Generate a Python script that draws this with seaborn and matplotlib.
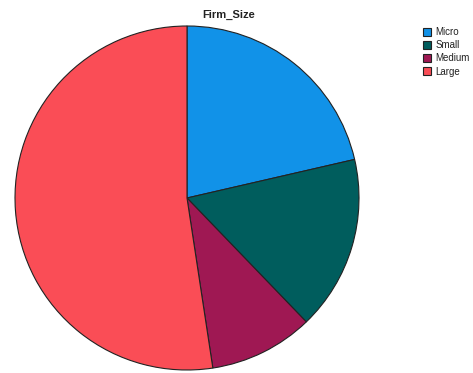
import matplotlib
matplotlib.use("Agg")
import matplotlib.pyplot as plt
import seaborn as sns

# firm size shares
categories = ["Micro", "Small", "Medium", "Large"]
shares = [21.4, 16.4, 9.8, 52.4]
colors = ["#1192e8", "#005d5d", "#9f1853", "#fa4d56"]

sns.set_theme(style="white")
plt.rcParams['font.family'] = ['Liberation Sans', 'DejaVu Sans']

fig = plt.figure(figsize=(4.73, 3.73), dpi=100)
ax = fig.add_axes([15 / 473, 3 / 373, 344 / 473, 344 / 373])

palette = sns.color_palette(colors)
wedges, _ = ax.pie(shares, colors=palette, startangle=90, counterclock=False,
                   wedgeprops=dict(edgecolor="#222222", linewidth=0.8))
ax.set_xlim(-1, 1)
ax.set_ylim(-1, 1)
ax.set_aspect("equal")
ax.axis("off")

fig.text(229 / 473, 1 - 15 / 373, "Firm_Size", ha="center", va="center",
         fontsize=8, fontweight="bold", color="#222222")

leg = fig.legend(wedges, categories, loc="upper left",
                 bbox_to_anchor=(423 / 473, 1 - 27 / 373), frameon=False,
                 fontsize=7, handlelength=0.85, handleheight=0.85,
                 handletextpad=0.4, labelspacing=0.33, borderpad=0,
                 borderaxespad=0)
for t in leg.get_texts():
    t.set_color("#222222")

fig.savefig("out.png", dpi=100)
